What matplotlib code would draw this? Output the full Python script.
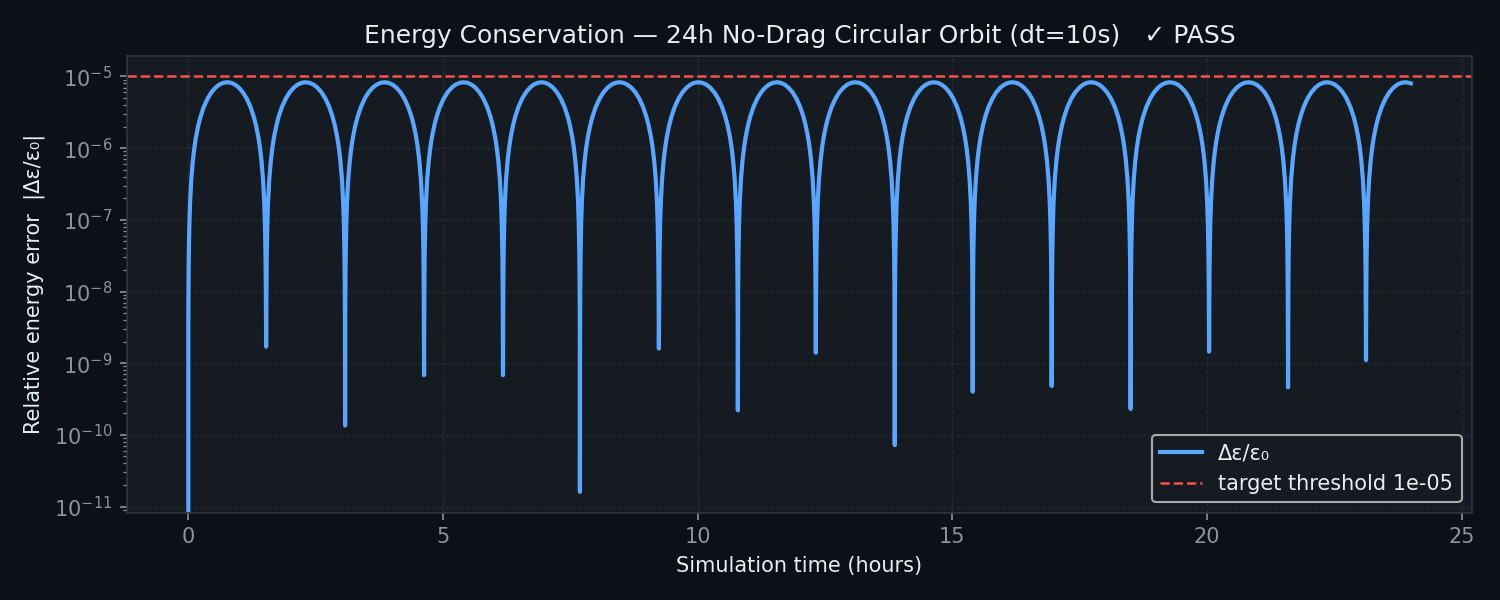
import numpy as np
import matplotlib
matplotlib.use("Agg")
import matplotlib.pyplot as plt

# ---- data ----
# times (hours) of the dips in the relative energy error
DIP_TIMES = [0.0, 1.53, 3.08, 4.63, 6.18, 7.69, 9.24, 10.79, 12.32, 13.87,
             15.40, 16.95, 18.50, 20.04, 21.59, 23.12, 24.66]
# error value at each dip (0 at t=0)
DIP_VALUES = [0.0, 1.7e-9, 1.35e-10, 6.8e-10, 6.8e-10, 1.6e-11, 1.6e-9, 2.2e-10,
              1.4e-9, 7.2e-11, 4.0e-10, 4.8e-10, 2.3e-10, 1.45e-9, 4.6e-10, 1.1e-9]
# peak error of each arch
PEAK_VALUES = [8.3e-6] * 16
# shape of a half arch: fraction of arch width vs fraction of peak
ARCH_PHASE = [0.0018, 0.004, 0.008, 0.015, 0.025, 0.04, 0.06, 0.08, 0.10, 0.13,
              0.16, 0.20, 0.25, 0.30, 0.35, 0.40, 0.45, 0.50]
ARCH_LEVEL = [4.25e-4, 1.41e-3, 3.98e-3, 0.0102, 0.0220, 0.0444, 0.0811, 0.124,
              0.172, 0.250, 0.334, 0.451, 0.595, 0.728, 0.841, 0.928, 0.982, 1.0]
END_TIME = 24.0
END_VALUE = 8.0e-6
THRESHOLD = 1e-5

# ---- assemble the curve from the read values ----
ph = np.array(ARCH_PHASE)
lv = np.array(ARCH_LEVEL)
full_phase = np.concatenate([ph, 1 - ph[-2::-1]])
full_level = np.concatenate([lv, lv[-2::-1]])
t_all, e_all = [], []
for k in range(len(DIP_VALUES)):
    t0, t1 = DIP_TIMES[k], DIP_TIMES[k + 1]
    t_all.append(t0)
    e_all.append(DIP_VALUES[k])
    tt = t0 + full_phase * (t1 - t0)
    ee = PEAK_VALUES[k] * full_level
    keep = tt < END_TIME
    t_all.extend(tt[keep])
    e_all.extend(ee[keep])
t_all.append(END_TIME)
e_all.append(END_VALUE)
t_all = np.array(t_all)
e_all = np.array(e_all)

# ---- styling ----
FIG_BG = "#0d1117"
AX_BG = "#161b22"
TXT = "#e6edf3"
TICK = "#8b949e"
SPINE = "#30363d"
LINE = "#58a6ff"
RED = "#f85149"

fig = plt.figure(figsize=(10, 4), dpi=150, facecolor=FIG_BG)
ax = fig.add_axes([0.0847, 0.1455, 0.8966, 0.7617])
ax.set_facecolor(AX_BG)

ax.plot(t_all, e_all, color=LINE, lw=2.0, label="Δε/ε₀")
ax.axhline(THRESHOLD, color=RED, lw=1.2, ls="--", label=f"target threshold {THRESHOLD:.0e}")
ax.set_yscale("log")

ax.set_title("Energy Conservation — 24h No-Drag Circular Orbit (dt=10s)   ✓ PASS",
             color=TXT, fontsize=12)
ax.set_xlabel("Simulation time (hours)", color=TXT, fontsize=10)
ax.set_ylabel("Relative energy error  |Δε/ε₀|", color=TXT, fontsize=10)

ax.tick_params(axis="both", which="both", colors=TICK, labelsize=10)
for s in ax.spines.values():
    s.set_color(SPINE)
ax.grid(True, which="major", color=SPINE, ls="--", lw=0.6, alpha=0.6)

leg = ax.legend(loc="lower right", facecolor=AX_BG, edgecolor="#aaaaaa",
                fontsize=10, framealpha=1.0)
for txt in leg.get_texts():
    txt.set_color(TXT)

fig.savefig("out.png", dpi=150, facecolor=FIG_BG)
